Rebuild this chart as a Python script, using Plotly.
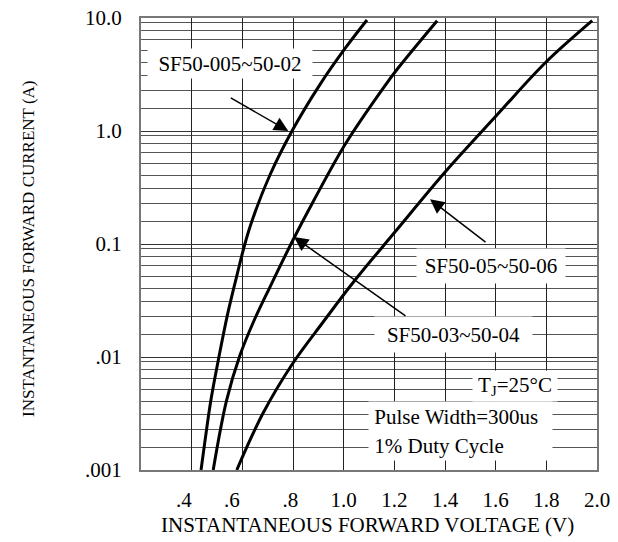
import plotly.graph_objects as go

# ---- data ----
V1 = [0.437, 0.453, 0.476, 0.509, 0.541, 0.576, 0.610, 0.638, 0.709, 0.796, 0.905, 1.007, 1.092]
I1 = [0.001, 0.00184, 0.00416, 0.0104, 0.0235, 0.050, 0.100, 0.160, 0.408, 1.00, 2.55, 5.43, 9.6]

V2 = [0.485, 0.538, 0.591, 0.642, 0.709, 0.800, 0.883, 1.009, 1.159, 1.215, 1.369]
I2 = [0.001, 0.00416, 0.0104, 0.0200, 0.0416, 0.1085, 0.245, 0.783, 2.45, 3.61, 9.47]

V3 = [0.578, 0.682, 0.800, 0.919, 1.045, 1.199, 1.404, 1.605, 1.795, 1.981]
I3 = [0.001, 0.00319, 0.00885, 0.0204, 0.048, 0.125, 0.443, 1.385, 4.0, 9.47]

X_TICKVALS = [0.4, 0.6, 0.8, 1.0, 1.2, 1.4, 1.6, 1.8, 2.0]
X_TICKTEXT = [".4\u00a0\u00a0\u00a0", ".6\u00a0\u00a0\u00a0\u00a0", ".8\u00a0", "1.0", "1.2", "1.4", "1.6", "1.8", "2.0"]
Y_TICKVALS = [0.001, 0.01, 0.1, 1, 10]
Y_TICKTEXT = [".001", ".01", "0.1", "1.0", "10.0"]

# irregular log-paper grid (ratios within each decade)
GRID_RATIOS = [1.57, 2.28, 3.08, 4.06, 5.12, 6.43, 7.75, 9.2]
DECADES = [0.001, 0.01, 0.1, 1]
minor_vals = [d * r for d in DECADES for r in GRID_RATIOS]

FONT = "Liberation Serif, Times New Roman, serif"

fig = go.Figure()
for v, i in [(V1, I1), (V2, I2), (V3, I3)]:
    fig.add_trace(go.Scatter(x=v, y=i, mode="lines", line=dict(color="black", width=3, shape="spline"),
                             showlegend=False, hoverinfo="skip"))

fig.update_layout(
    width=618, height=542,
    margin=dict(l=141, r=21, t=18, b=72, autoexpand=False),
    paper_bgcolor="white", plot_bgcolor="white",
    font=dict(family=FONT, size=21, color="black"),
    showlegend=False,
)
fig.update_xaxes(
    range=[0.2, 2.0], tickvals=X_TICKVALS, ticktext=X_TICKTEXT, automargin=False,
    showgrid=True, gridcolor="#222", gridwidth=1, zeroline=False,
    showline=True, mirror=True, linecolor="#777", linewidth=2,
    ticks="", ticklabelstandoff=10, tickfont=dict(size=21),
)
fig.update_yaxes(
    type="log", range=[-3, 1], tickvals=Y_TICKVALS, ticktext=Y_TICKTEXT, automargin=False,
    showgrid=True, gridcolor="#333", gridwidth=1, zeroline=False,
    showline=True, mirror=True, linecolor="#777", linewidth=2,
    ticks="", ticklabelstandoff=13, tickfont=dict(size=21),
    minor=dict(tickvals=minor_vals, showgrid=True, gridcolor="#555", gridwidth=1, ticks=""),
)

def box(text, x, y, w, h, align="center"):
    fig.add_annotation(text=text, xref="paper", yref="paper", x=x, y=y, showarrow=False,
                       xanchor="center", yanchor="middle",
                       width=w, height=h, bgcolor="white", borderpad=0, align=align,
                       font=dict(family=FONT, size=21, color="black"))

box("SF50-005~50-02", 0.1952, 0.8993, 164, 29)
box("SF50-05~50-06", 0.7675, 0.4513, 148, 34)
box("SF50-03~50-04", 0.6853, 0.2998, 157, 35)
box("T<sub>J</sub>=25°C", 0.8202, 0.1858, 84, 30)
box(" Pulse Width=300us", 0.7007, 0.1173, 183, 30, align="left")
box(" 1% Duty Cycle", 0.7007, 0.0531, 183, 28, align="left")

def arrow(x, y, ax, ay):
    fig.add_annotation(xref="paper", yref="paper", x=x, y=y, ax=ax, ay=ay, text="",
                       showarrow=True, arrowhead=2, arrowsize=1.9, arrowwidth=1.5, arrowcolor="black")

arrow(0.323, 0.75, -59, -34)
arrow(0.3355, 0.5155, 113, 80)
arrow(0.6338, 0.5989, 57, 44)

fig.add_annotation(text="INSTANTANEOUS FORWARD VOLTAGE (V)", xref="paper", yref="paper",
                   x=0.4967, y=-0.1217, xanchor="center", yanchor="middle", showarrow=False,
                   font=dict(family=FONT, size=21, color="black"))
fig.add_annotation(text="INSTANTANEOUS FORWARD CURRENT (A)", xref="paper", yref="paper",
                   x=-0.2456, y=0.489, xanchor="center", yanchor="middle", textangle=-90, showarrow=False,
                   font=dict(family=FONT, size=17, color="black"))

fig.write_html("out.html", config={"displayModeBar": False},
               post_script="document.body.style.margin='0';")
